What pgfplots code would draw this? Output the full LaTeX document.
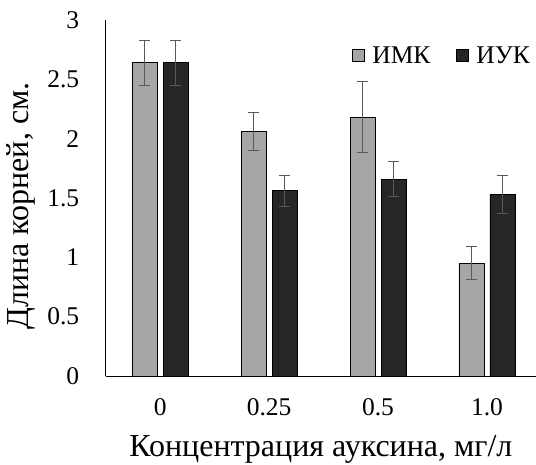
\documentclass[border=0pt]{standalone}
\usepackage{fontspec}
\setmainfont{Liberation Serif}
\usepackage{pgfplots}
\pgfplotsset{compat=1.18}
\definecolor{imk}{HTML}{A6A6A6}
\definecolor{iuk}{HTML}{262626}
\definecolor{errc}{HTML}{595959}
\begin{document}
\begin{tikzpicture}
\begin{axis}[
  name=ax,
  scale only axis, width=430.3pt, height=356pt,
  ymin=0, ymax=3, ytick={0,0.5,1,1.5,2,2.5,3},
  yticklabels={0,0.5,1,1.5,2,2.5,3},
  xmin=-0.5, xmax=3.45,
  xtick={0,1,2,3}, xticklabels={0,0.25,0.5,1.0},
  axis lines*=left, axis line style={-, black, line width=0.9pt},
  major tick length=0pt,
  ybar=6pt, bar width=25pt,
  tick label style={font=\fontsize{25.5}{25.5}\selectfont},
  /pgf/number format/assume math mode=true,
  yticklabel style={xshift=-23pt},
  xticklabel style={yshift=-19pt},
  xlabel={Концентрация ауксина, мг/л},
  ylabel={Длина корней, см.},
  label style={font=\fontsize{32}{32}\selectfont},
  xlabel style={yshift=-13pt},
  ylabel style={yshift=5pt, xshift=-8pt},
  legend columns=2,
  legend style={draw=none, fill=none, at={(rel axis cs:0.573,0.90)}, anchor=west,
    font=\fontsize{25.5}{25.5}\selectfont,
    /tikz/every odd column/.append style={column sep=7pt},
    /tikz/every even column/.append style={column sep=26pt},
    inner sep=0pt, nodes={inner sep=0pt}},
  legend image code/.code={\draw[#1, line width=0.9pt] (0pt,-6pt) rectangle (12pt,6pt);},
  error bars/error bar style={errc, line width=1pt},
  error bars/error mark options={rotate=90, errc, mark size=5.5pt, line width=1pt},
]
\addplot[fill=imk, draw=black, line width=0.9pt, error bars/.cd, y dir=both, y explicit]
  coordinates {(0,2.64)+-(0,0.19) (1,2.06)+-(0,0.16) (2,2.18)+-(0,0.30) (3,0.95)+-(0,0.14)};
\addplot[fill=iuk, draw=black, line width=0.9pt, error bars/.cd, y dir=both, y explicit]
  coordinates {(0,2.64)+-(0,0.19) (1,1.56)+-(0,0.13) (2,1.66)+-(0,0.15) (3,1.53)+-(0,0.16)};
\legend{ИМК, ИУК}
\end{axis}
\pgfresetboundingbox
\path[use as bounding box] ([xshift=-105.7pt,yshift=-89pt]ax.south west) rectangle ([yshift=20pt]ax.north east);
\end{tikzpicture}
\end{document}
